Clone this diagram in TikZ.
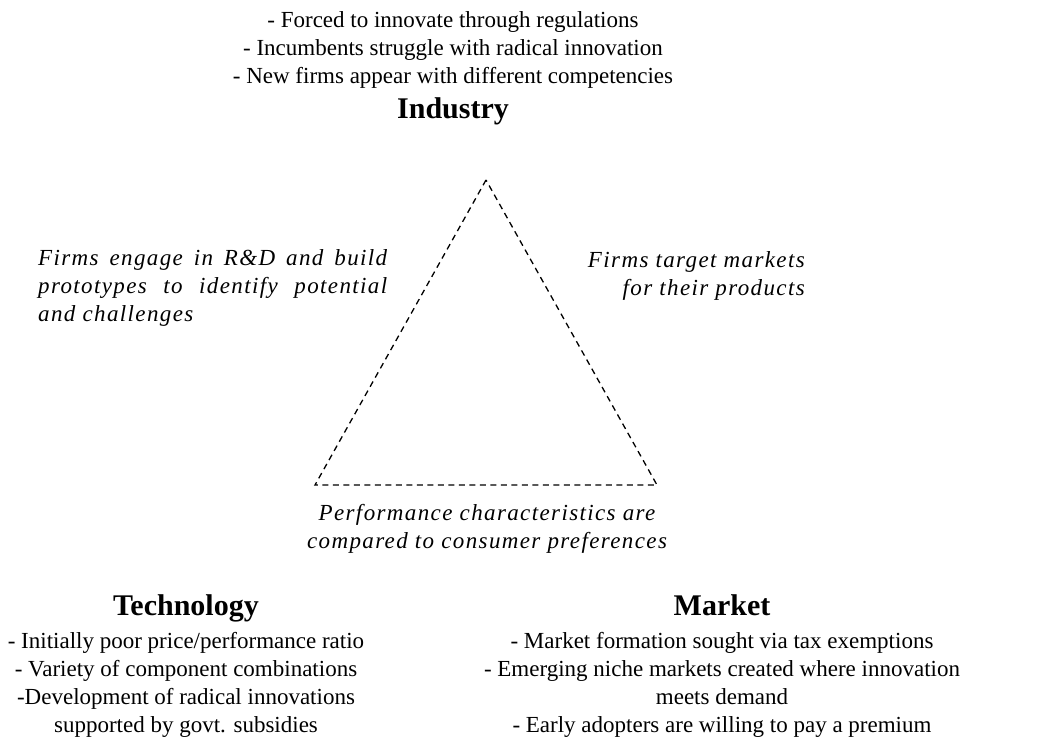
\documentclass[tikz,border=0pt]{standalone}
\usepackage{fontspec}
\setmainfont{Liberation Serif}
\newcommand{\rows}[2]{\begin{tabular}[t]{@{}#1@{}}#2\end{tabular}}
\begin{document}
\begin{tikzpicture}[x=1pt,y=-1pt,
  body/.style={inner sep=0pt,anchor=base,font=\fontsize{23}{28}\selectfont},
  heading/.style={inner sep=0pt,anchor=base,font=\fontsize{30}{32}\selectfont\bfseries},
  note/.style={inner sep=0pt,font=\fontsize{23}{28}\selectfont\itshape\addfontfeatures{LetterSpace=6}},
  edge/.style={dash pattern=on 6pt off 4.5pt,line width=1.3pt}]
\useasboundingbox (0,0) rectangle (1041,740);

% triangle corners
\coordinate (ind) at (486,180);
\coordinate (tech) at (315,485);
\coordinate (mkt) at (657,485);
\draw[edge] (ind) -- (tech) -- (mkt) -- cycle;

% industry
\node[body] (indlist) at (453,27) {\rows{c}{- Forced to innovate through regulations\\- Incumbents struggle with radical innovation\\- New firms appear with different competencies}};
\node[heading] (indhead) at (453,118) {Industry};

% edge notes
\node[note,anchor=base west] (noteL) at (38,265) {\parbox[t]{349pt}{Firms engage in R\&D and build\linebreak prototypes to identify potential\linebreak and challenges}};
\node[note,anchor=base east] (noteR) at (805,267) {\rows{r}{Firms target markets\\for their products}};
\node[note,anchor=base] (noteB) at (487,520) {\rows{c}{Performance characteristics are\\compared to consumer preferences}};

% technology
\node[heading] (techhead) at (186,615) {Technology};
\node[body] (techlist) at (186,648) {\rows{c}{- Initially poor price/performance ratio\\- Variety of component combinations\\-Development of radical innovations\\supported by govt. subsidies}};

% market
\node[heading] (mkthead) at (722,615) {Market};
\node[body] (mktlist) at (722,648) {\rows{c}{- Market formation sought via tax exemptions\\- Emerging niche markets created where innovation\\meets demand\\- Early adopters are willing to pay a premium}};
\end{tikzpicture}
\end{document}
